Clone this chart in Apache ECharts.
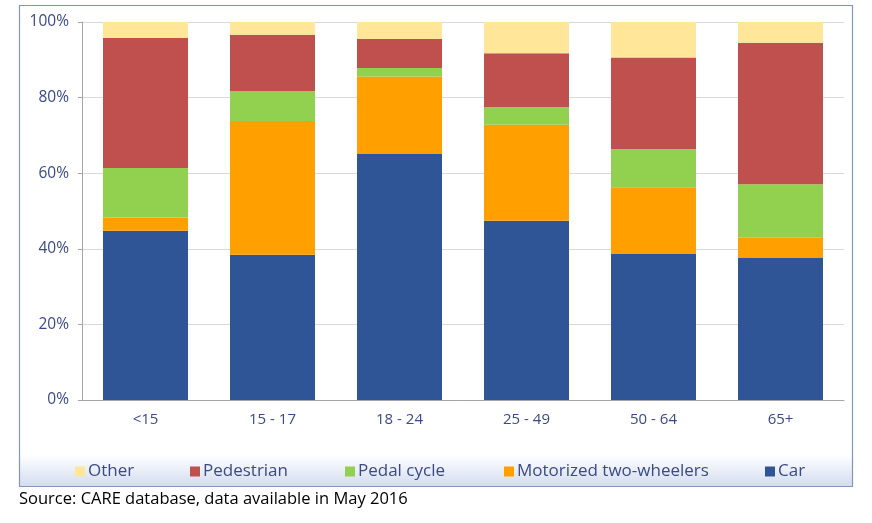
<!DOCTYPE html>
<html>
<head>
<meta charset="utf-8">
<script src="https://cdn.jsdelivr.net/npm/echarts@6/dist/echarts.min.js"></script>
<style>
html,body{margin:0;padding:0;background:#fff;}
#chart{width:872px;height:523px;}
</style>
</head>
<body>
<div id="chart"></div>
<script>
// ---- data ----
const categories = ['<15', '15 - 17', '18 - 24', '25 - 49', '50 - 64', '65+'];
const car        = [44.8, 38.4, 65.2, 47.4, 38.6, 37.7];
const motorized  = [3.5, 35.4, 20.4, 25.4, 17.7, 5.2];
const pedalCycle = [13.1, 7.9, 2.2, 4.7, 10.1, 14.2];
const pedestrian = [34.4, 14.9, 7.7, 14.2, 24.2, 37.4];
const other      = [4.2, 3.4, 4.5, 8.3, 9.4, 5.5];
const yTicks = [0, 20, 40, 60, 80, 100];
const sourceText = 'Source: CARE database, data available in May 2016';

const seriesDefs = [
  {name: 'Car', data: car, color: '#2F5597'},
  {name: 'Motorized two-wheelers', data: motorized, color: '#FFA000'},
  {name: 'Pedal cycle', data: pedalCycle, color: '#92D050'},
  {name: 'Pedestrian', data: pedestrian, color: '#C0504D'},
  {name: 'Other', data: other, color: '#FFE699'}
];
const legendOrder = ['Other', 'Pedestrian', 'Pedal cycle', 'Motorized two-wheelers', 'Car'];
const legendLeft = [75, 190, 345, 504, 765];

const FONT = '"Open Sans", "Liberation Sans", sans-serif';
const NAVY = '#3B4A86';

const chart = echarts.init(document.getElementById('chart'), null, {renderer: 'canvas'});
chart.setOption({
  animation: false,
  backgroundColor: '#ffffff',
  textStyle: {fontFamily: FONT},
  grid: {left: 82, right: 28, top: 22, bottom: 123, containLabel: false},
  legend: legendOrder.map((n, i) => ({
    data: [n],
    left: legendLeft[i],
    top: 463,
    padding: 0,
    itemWidth: 10,
    itemHeight: 10,
    itemGap: 0,
    icon: 'rect',
    selectedMode: true,
    textStyle: {fontFamily: FONT, fontSize: 17, color: NAVY, padding: [0, 0, 0, -2]}
  })),
  xAxis: {
    type: 'category',
    data: categories,
    axisLine: {show: true, lineStyle: {color: '#A6A6A6', width: 1}},
    axisTick: {show: false},
    axisLabel: {fontFamily: FONT, fontSize: 15, color: NAVY, margin: 12}
  },
  yAxis: {
    type: 'value',
    min: yTicks[0],
    max: yTicks[yTicks.length - 1],
    interval: yTicks[1] - yTicks[0],
    axisLine: {show: true, lineStyle: {color: '#A6A6A6', width: 1}},
    axisTick: {show: true, length: 4, lineStyle: {color: '#A6A6A6'}},
    splitLine: {show: true, lineStyle: {color: '#D9D9D9', width: 1}},
    axisLabel: {fontFamily: FONT, fontSize: 15.5, color: NAVY, margin: 13, formatter: '{value}%'}
  },
  series: seriesDefs.map(s => ({
    name: s.name,
    type: 'bar',
    stack: 'total',
    data: s.data,
    barWidth: 85,
    itemStyle: {color: s.color},
    emphasis: {disabled: true}
  })),
  graphic: [
    {
      type: 'rect', z: -10, silent: true,
      shape: {x: 20, y: 455, width: 833, height: 31},
      style: {
        fill: new echarts.graphic.LinearGradient(0, 0, 0, 1, [
          {offset: 0, color: '#FFFFFF'},
          {offset: 1, color: '#D3DDEF'}
        ])
      }
    },
    {
      type: 'rect', z: 10, silent: true,
      shape: {x: 19.5, y: 5.5, width: 833, height: 481},
      style: {fill: 'none', stroke: '#8496B8', lineWidth: 1.2}
    },
    {
      type: 'text', left: 19, top: 491, silent: true,
      style: {text: sourceText, fontFamily: FONT, fontSize: 16.5, fill: '#000000'}
    }
  ]
});
</script>
</body>
</html>
